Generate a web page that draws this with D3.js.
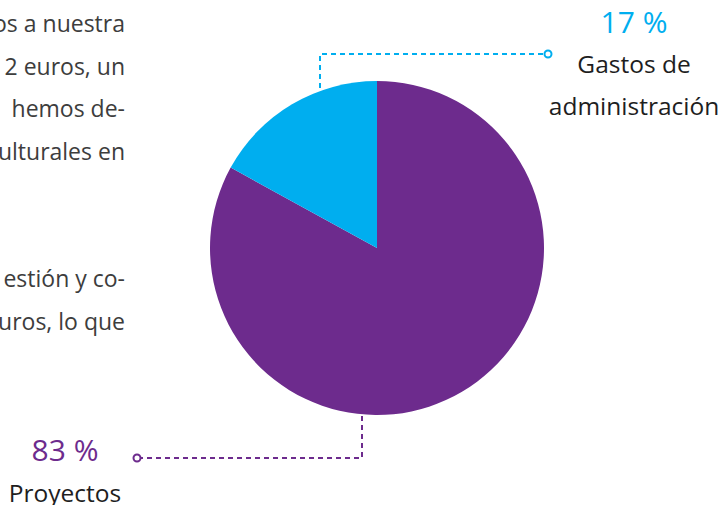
<!DOCTYPE html>
<html><head><meta charset="utf-8">
<script src="https://cdn.jsdelivr.net/npm/d3@7"></script>
<style>html,body{margin:0;padding:0;background:#fff;}svg{display:block;}</style>
</head><body>
<script>
const categories = ["Proyectos", "Gastos de administración"];
const values = [83, 17];
const percentLabels = ["83 %", "17 %"];
const colors = ["#6d2b8d", "#00aeef"];
const paragraphLines = ["os a nuestra", "2 euros, un", " hemos de-", "ulturales en", "", "", "estión y co-", "uros, lo que"];

const W = 724, H = 505;
const svg = d3.select("body").append("svg").attr("width", W).attr("height", H);
const font = "'Open Sans', 'Noto Sans', sans-serif";

// paragraph fragment on the left
svg.append("g").selectAll("text").data(paragraphLines).join("text")
  .attr("x", 125).attr("y", (d, i) => 32 + i * 42.5)
  .attr("text-anchor", "end").attr("font-family", font).attr("font-size", 23)
  .attr("fill", "#3d3d3d").style("white-space", "pre").text(d => d);

const cx = 377, cy = 248, r = 167;
const pie = d3.pie().sort(null).value(d => d);
const arcs = pie(values);
const arc = d3.arc().innerRadius(0).outerRadius(r);
const g = svg.append("g").attr("transform", `translate(${cx},${cy})`);
g.selectAll("path").data(arcs).join("path").attr("d", arc).attr("fill", (d, i) => colors[i]);

// leader lines
function leader(pts, color) {
  svg.append("path").attr("d", d3.line()(pts)).attr("fill", "none")
    .attr("stroke", color).attr("stroke-width", 2).attr("stroke-dasharray", "5,4");
  const e = pts[pts.length - 1];
  svg.append("circle").attr("cx", e[0]).attr("cy", e[1]).attr("r", 3.5)
    .attr("fill", "#fff").attr("stroke", color).attr("stroke-width", 2);
}
leader([[320, 88], [320, 54], [548, 54]], colors[1]);
leader([[362, 416], [362, 458], [137, 458]], colors[0]);

// labels
svg.append("text").attr("x", 634).attr("y", 33).attr("text-anchor", "middle")
  .attr("font-family", font).attr("font-size", 30).attr("fill", colors[1]).text(percentLabels[1]);
svg.append("text").attr("x", 634).attr("y", 73).attr("text-anchor", "middle")
  .attr("font-family", font).attr("font-size", 24.5).attr("fill", "#1e1e1e").text("Gastos de");
svg.append("text").attr("x", 634).attr("y", 115).attr("text-anchor", "middle")
  .attr("font-family", font).attr("font-size", 24.5).attr("fill", "#1e1e1e").text("administración");
svg.append("text").attr("x", 65).attr("y", 461).attr("text-anchor", "middle")
  .attr("font-family", font).attr("font-size", 30).attr("fill", colors[0]).text(percentLabels[0]);
svg.append("text").attr("x", 65).attr("y", 502).attr("text-anchor", "middle")
  .attr("font-family", font).attr("font-size", 24.5).attr("fill", "#1e1e1e").text(categories[0]);
</script>
</body></html>
